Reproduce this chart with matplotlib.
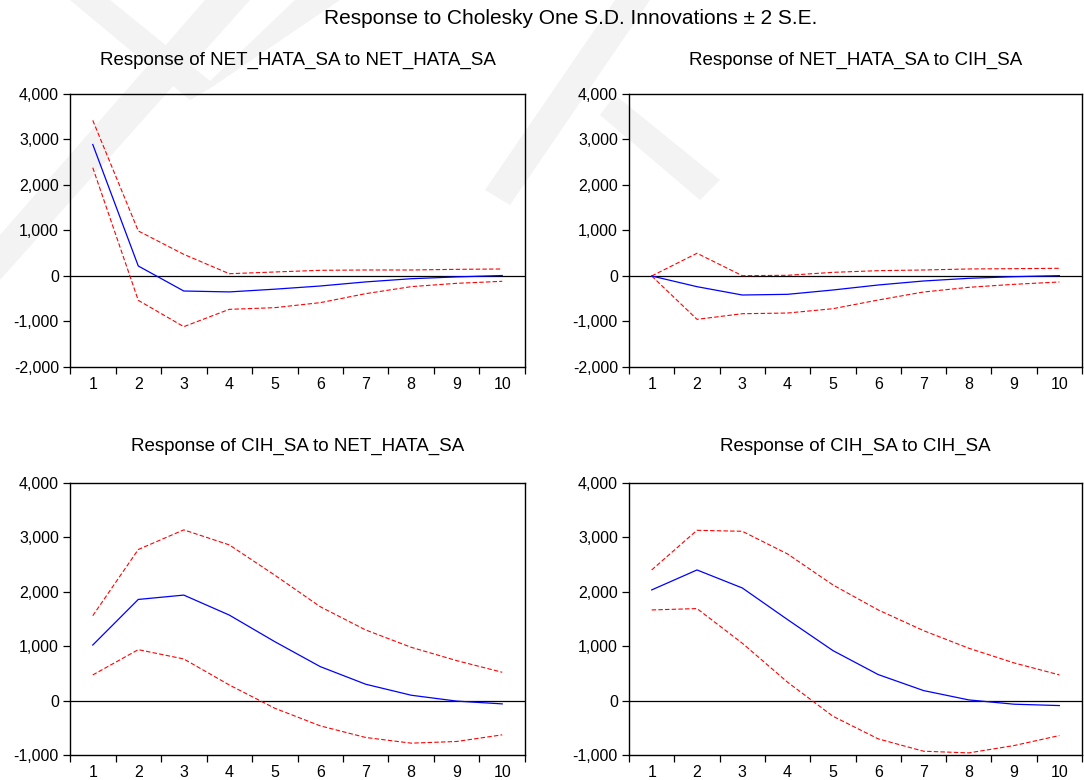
import matplotlib
matplotlib.use('Agg')
import matplotlib.pyplot as plt
from matplotlib.patches import Polygon
from matplotlib.ticker import FuncFormatter
import numpy as np

plt.rcParams['font.family'] = ['Liberation Sans', 'DejaVu Sans']

periods = np.arange(1, 11)

# Response of NET_HATA_SA to NET_HATA_SA
net_net = [2890, 220, -330, -350, -290, -220, -130, -60, -20, 10]
net_net_up = [3420, 990, 476, 50, 88, 125, 132, 132, 146, 154]
net_net_lo = [2380, -535, -1114, -733, -696, -586, -388, -234, -161, -117]

# Response of NET_HATA_SA to CIH_SA
net_cih = [0, -235, -418, -403, -308, -198, -110, -51, -15, 7]
net_cih_up = [0, 499, 7, 15, 80, 117, 132, 154, 161, 169]
net_cih_lo = [0, -953, -829, -814, -719, -528, -352, -249, -183, -132]

# Response of CIH_SA to NET_HATA_SA
cih_net = [1021, 1859, 1939, 1572, 1083, 624, 300, 98, -10, -61]
cih_net_up = [1560, 2777, 3138, 2862, 2306, 1725, 1297, 979, 734, 520]
cih_net_lo = [471, 936, 765, 287, -141, -465, -679, -783, -752, -630]

# Response of CIH_SA to CIH_SA
cih_cih = [2034, 2401, 2070, 1488, 919, 478, 184, 12, -67, -92]
cih_cih_up = [2401, 3130, 3112, 2695, 2126, 1666, 1286, 962, 692, 472]
cih_cih_lo = [1666, 1691, 1054, 337, -288, -704, -931, -962, -827, -643]

titles = ['Response of NET_HATA_SA to NET_HATA_SA',
          'Response of NET_HATA_SA to CIH_SA',
          'Response of CIH_SA to NET_HATA_SA',
          'Response of CIH_SA to CIH_SA']

fig = plt.figure(figsize=(10.84, 7.8), dpi=100)

# faint watermark in the background (pixel coords)
bg = fig.add_axes([0, 0, 1, 1], zorder=-10)
bg.set_xlim(0, 1084)
bg.set_ylim(780, 0)
bg.axis('off')
wm = [
    [(0, 235), (0, 280), (250, 0), (205, 0)],
    [(70, 0), (110, 0), (215, 85), (190, 100)],
    [(190, 100), (215, 85), (340, 0), (295, 0)],
    [(485, 190), (510, 205), (650, 0), (615, 0)],
    [(600, 115), (615, 95), (720, 180), (700, 200)],
]
for pts in wm:
    bg.add_patch(Polygon(pts, closed=True, facecolor='#f3f3f3', edgecolor='none'))

positions = [
    [0.0646, 0.5295, 0.4197, 0.350],
    [0.5803, 0.5295, 0.4179, 0.350],
    [0.0646, 0.0321, 0.4197, 0.3487],
    [0.5803, 0.0321, 0.4179, 0.3487],
]
data = [
    (net_net, net_net_up, net_net_lo, (-2000, 4000)),
    (net_cih, net_cih_up, net_cih_lo, (-2000, 4000)),
    (cih_net, cih_net_up, cih_net_lo, (-1000, 4000)),
    (cih_cih, cih_cih_up, cih_cih_lo, (-1000, 4000)),
]
title_y = [60, 60, 446, 446]

fmt = FuncFormatter(lambda v, p: f'{int(v):,}')

for pos, (resp, up, lo, ylim), title, ty in zip(positions, data, titles, title_y):
    ax = fig.add_axes(pos)
    ax.patch.set_alpha(0)
    ax.axhline(0, color='black', lw=0.9)
    ax.plot(periods, up, color='#ff0000', lw=0.8, ls=(0, (4, 2)))
    ax.plot(periods, lo, color='#ff0000', lw=0.8, ls=(0, (4, 2)))
    ax.plot(periods, resp, color='#0000ff', lw=0.9)
    ax.set_xlim(0.5, 10.5)
    ax.set_ylim(*ylim)
    ax.set_yticks(np.arange(ylim[0], ylim[1] + 1, 1000))
    ax.yaxis.set_major_formatter(fmt)
    ax.set_xticks(periods)
    ax.set_xticks(np.arange(0.5, 11, 1), minor=True)
    ax.tick_params(axis='x', which='major', length=0, pad=7, labelsize=11.5)
    ax.tick_params(axis='x', which='minor', length=5, width=0.9, direction='out')
    ax.tick_params(axis='y', length=5, width=0.9, direction='out', pad=3, labelsize=11.5)
    for s in ax.spines.values():
        s.set_linewidth(1.0)
    x0, x1 = pos[0], pos[0] + pos[2]
    fig.text((x0 + x1) / 2, 1 - ty / 780, title, ha='center', va='center', fontsize=13.5)

fig.text(0.5263, 1 - 18 / 780, 'Response to Cholesky One S.D. Innovations \u00b1 2 S.E.',
         ha='center', va='center', fontsize=15)

fig.savefig('out.png', dpi=100)
